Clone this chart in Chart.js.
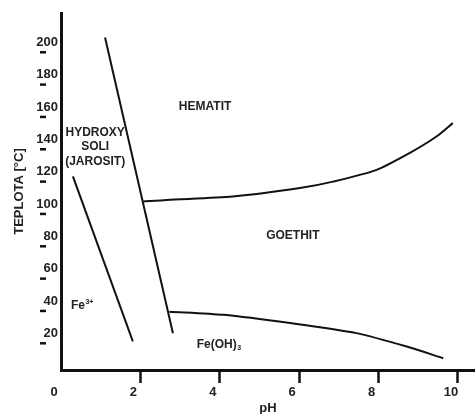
<!DOCTYPE html>
<html>
<head>
<meta charset="utf-8">
<script src="https://cdn.jsdelivr.net/npm/chart.js@4.4.1/dist/chart.umd.min.js"></script>
<style>
  html, body { margin: 0; padding: 0; background: #fff; }
  #wrap { width: 475px; height: 414px; }
</style>
</head>
<body>
<div id="wrap"><canvas id="chart"></canvas></div>
<script>
// tick values
const xTicks = [0, 2, 4, 6, 8, 10];
const yTicks = [20, 40, 60, 80, 100, 120, 140, 160, 180, 200];

// boundary lines (pH, temperature)
const fe3X = [0.30, 1.81];
const fe3Y = [117, 15];
const jarositX = [1.11, 2.82];
const jarositY = [203, 20];
const hematitX = [2.07, 2.66, 4.33, 6.02, 6.85, 7.95, 8.79, 9.46, 9.87];
const hematitY = [101.5, 102.5, 104.6, 109.8, 113.8, 121.1, 131.6, 141.7, 150.0];
const goethitX = [2.73, 4.09, 5.77, 7.44, 8.71, 9.63];
const goethitY = [33.4, 31.4, 26.3, 20.1, 11.8, 4.6];

// region labels
const regionText = ['HEMATIT', 'HYDROXY', 'SOLI', '(JAROSIT)', 'GOETHIT'];
const regionX = [3.63, 0.86, 0.86, 0.86, 5.84];
const regionY = [160, 144, 135.2, 126, 80.2];

function toPoints(xs, ys) {
    return xs.map((x, i) => ({ x: x, y: ys[i] }));
}

function lineSet(xs, ys, tension) {
    return {
        data: toPoints(xs, ys),
        showLine: true,
        borderColor: '#111',
        borderWidth: 2,
        pointRadius: 0,
        tension: tension,
        fill: false
    };
}

const labelsPlugin = {
    id: 'labels',
    afterDatasetsDraw(chart) {
        const ctx = chart.ctx;
        const xs = chart.scales.x;
        const ys = chart.scales.y;
        ctx.save();
        ctx.fillStyle = '#222';
        ctx.textBaseline = 'middle';
        ctx.font = 'bold 12px "Liberation Sans", Arial, sans-serif';
        ctx.textAlign = 'center';
        regionText.forEach((t, i) => {
            ctx.fillText(t, xs.getPixelForValue(regionX[i]), ys.getPixelForValue(regionY[i]));
        });

        // Fe3+ and Fe(OH)3 with small indices
        ctx.textAlign = 'left';
        let px = xs.getPixelForValue(0.25);
        let py = ys.getPixelForValue(36.9);
        ctx.font = 'bold 12px "Liberation Sans", Arial, sans-serif';
        ctx.fillText('Fe', px, py);
        let w = ctx.measureText('Fe').width;
        ctx.font = 'bold 7px "Liberation Sans", Arial, sans-serif';
        ctx.fillText('3+', px + w + 0.5, py - 4);

        px = xs.getPixelForValue(3.42);
        py = ys.getPixelForValue(12.8);
        ctx.font = 'bold 12px "Liberation Sans", Arial, sans-serif';
        ctx.fillText('Fe(OH)', px, py);
        w = ctx.measureText('Fe(OH)').width;
        ctx.font = 'bold 7px "Liberation Sans", Arial, sans-serif';
        ctx.fillText('3', px + w + 0.5, py + 3);

        // short dashes under the y tick labels
        ctx.strokeStyle = '#111';
        ctx.lineWidth = 2.5;
        yTicks.forEach(v => {
            const y = ys.getPixelForValue(v) + 10;
            ctx.beginPath();
            ctx.moveTo(40, y);
            ctx.lineTo(46, y);
            ctx.stroke();
        });
        ctx.restore();
    }
};

const tickFont = { family: '"Liberation Sans", Arial, sans-serif', size: 13, weight: 'bold' };

new Chart(document.getElementById('chart'), {
    type: 'scatter',
    data: {
        datasets: [
            lineSet(fe3X, fe3Y, 0),
            lineSet(jarositX, jarositY, 0),
            lineSet(hematitX, hematitY, 0.25),
            lineSet(goethitX, goethitY, 0.25)
        ]
    },
    options: {
        responsive: true,
        maintainAspectRatio: false,
        animation: false,
        layout: { padding: { top: 13, left: 0, right: 0, bottom: 0 } },
        plugins: {
            legend: { display: false },
            tooltip: { enabled: false }
        },
        scales: {
            x: {
                type: 'linear',
                min: 0,
                max: 10.43,
                afterBuildTicks: axis => { axis.ticks = xTicks.map(v => ({ value: v })); },
                afterFit: axis => { axis.height = 44; },
                border: { color: '#111', width: 3 },
                grid: {
                    drawOnChartArea: false,
                    drawTicks: true,
                    tickLength: 13,
                    tickWidth: 2.5,
                    tickColor: c => (c.tick && c.tick.value === 0) ? 'rgba(0,0,0,0)' : '#111'
                },
                ticks: {
                    color: '#222',
                    font: tickFont,
                    padding: 2,
                    labelOffset: -7,
                    maxRotation: 0
                },
                title: {
                    display: true,
                    text: 'pH',
                    color: '#222',
                    font: { family: '"Liberation Sans", Arial, sans-serif', size: 13, weight: 'bold', lineHeight: 0.8 },
                    padding: 0
                }
            },
            y: {
                type: 'linear',
                min: -2.7,
                max: 218.1,
                afterBuildTicks: axis => { axis.ticks = yTicks.map(v => ({ value: v })); },
                afterFit: axis => { axis.width = 61; },
                border: { color: '#111', width: 3 },
                grid: { drawOnChartArea: false, drawTicks: false },
                ticks: {
                    color: '#222',
                    font: tickFont,
                    padding: 3
                },
                title: {
                    display: true,
                    text: 'TEPLOTA [°C]',
                    color: '#222',
                    font: { family: '"Liberation Sans", Arial, sans-serif', size: 13, weight: 'bold' },
                    padding: { top: 12, bottom: 0 }
                }
            }
        }
    },
    plugins: [labelsPlugin]
});
</script>
</body>
</html>
